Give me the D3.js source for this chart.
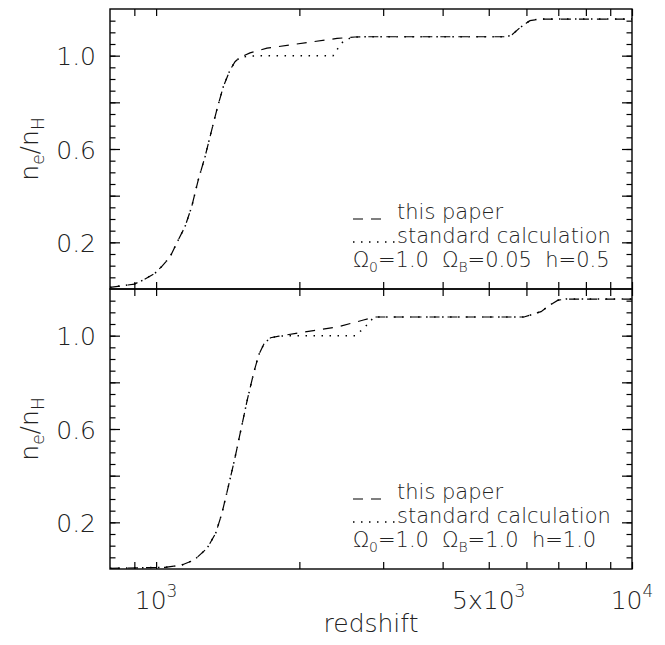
<!DOCTYPE html>
<html>
<head>
<meta charset="utf-8">
<script src="https://cdn.jsdelivr.net/npm/d3@7"></script>
<style>
  body { margin: 0; background: #fff; }
  svg text { font-family: "DejaVu Sans", "Liberation Sans", sans-serif; font-weight: 200; fill: #222; }
</style>
</head>
<body>
<div id="chart"></div>
<script>
// values (redshift, n_e/n_H)
var topPaperZ  = [800, 900, 940, 994, 1027, 1070, 1113, 1150, 1188, 1226, 1267, 1298, 1341, 1384, 1430, 1465, 1501, 1575, 1710, 2072, 2400, 2618, 2700, 5456, 5596, 5815, 6000, 6104, 6408, 10000];
var topPaperNe = [0.007, 0.021, 0.039, 0.067, 0.096, 0.138, 0.21, 0.267, 0.353, 0.467, 0.567, 0.653, 0.767, 0.867, 0.939, 0.974, 0.993, 1.012, 1.032, 1.056, 1.074, 1.080, 1.081, 1.081, 1.09, 1.12, 1.14, 1.15, 1.157, 1.157];
var topStdZ  = [800, 900, 940, 994, 1027, 1070, 1113, 1150, 1188, 1226, 1267, 1298, 1341, 1384, 1430, 1465, 1501, 1575, 1710, 2354, 2396, 2470, 2555, 2618, 2700, 5456, 5596, 5815, 6000, 6104, 6408, 10000];
var topStdNe = [0.007, 0.021, 0.039, 0.067, 0.096, 0.138, 0.21, 0.267, 0.353, 0.467, 0.567, 0.653, 0.767, 0.867, 0.939, 0.974, 0.993, 0.998, 1.0, 1.0, 1.024, 1.06, 1.075, 1.080, 1.081, 1.081, 1.09, 1.12, 1.14, 1.15, 1.157, 1.157];

var botPaperZ  = [800, 1044, 1132, 1203, 1280, 1334, 1375, 1418, 1461, 1507, 1554, 1603, 1642, 1687, 1740, 1812, 1967, 2411, 2727, 2842, 2885, 5930, 6440, 6709, 6991, 7266, 10000];
var botPaperNe = [0.003, 0.007, 0.017, 0.039, 0.089, 0.153, 0.239, 0.353, 0.467, 0.596, 0.724, 0.839, 0.917, 0.967, 0.991, 0.998, 1.01, 1.038, 1.067, 1.077, 1.08, 1.08, 1.103, 1.13, 1.152, 1.157, 1.157];
var botStdZ  = [800, 1044, 1132, 1203, 1280, 1334, 1375, 1418, 1461, 1507, 1554, 1603, 1642, 1687, 1740, 1812, 1967, 2618, 2727, 2842, 2885, 5930, 6440, 6709, 6991, 7266, 10000];
var botStdNe = [0.003, 0.007, 0.017, 0.039, 0.089, 0.153, 0.239, 0.353, 0.467, 0.596, 0.724, 0.839, 0.917, 0.967, 0.991, 0.998, 1.0, 1.0, 1.03, 1.07, 1.08, 1.08, 1.103, 1.13, 1.152, 1.157, 1.157];

var xTicks = [900, 1000, 2000, 3000, 4000, 5000, 6000, 7000, 8000, 9000, 10000];
var xLabelVals = [1000, 5000, 10000];
var xLabelBase = ["10", "5x10", "10"];
var xLabelExp  = ["3", "3", "4"];
var yMajor = [0.2, 0.4, 0.6, 0.8, 1.0];
var yLabelled = [0.2, 0.6, 1.0];
var yMinor = d3.range(1, 24).map(function(i) { return i * 0.05; });

var legendNames = ["this paper", "standard calculation"];
var paramsTop = [["\u03A9", "0", "=1.0  "], ["\u03A9", "B", "=0.05  h=0.5"]];
var paramsBot = [["\u03A9", "0", "=1.0  "], ["\u03A9", "B", "=1.0  h=1.0"]];

var W = 665, H = 645;
var xLeft = 110, xRight = 632, yTop = 9, yMid = 289, yBot = 569;

var svg = d3.select("#chart").append("svg")
  .attr("width", W).attr("height", H);

var x = d3.scaleLog().domain([800, 10000]).range([xLeft, xRight]);

function panel(y0, y1, paper, std, params) {
  var y = d3.scaleLinear().domain([0, 1.2]).range([y1, y0]);
  var g = svg.append("g");

  // frame
  g.append("rect")
    .attr("x", xLeft).attr("y", y0)
    .attr("width", xRight - xLeft).attr("height", y1 - y0)
    .attr("fill", "none").attr("stroke", "#000").attr("stroke-width", 1.4);

  // y ticks (inward) both sides
  var ax;
  ax = g.append("g").attr("transform", "translate(" + xLeft + ",0)")
    .call(d3.axisLeft(y).tickValues(yMinor).tickSize(-5.5).tickFormat(""));
  ax.select(".domain").remove();
  ax = g.append("g").attr("transform", "translate(" + xLeft + ",0)")
    .call(d3.axisLeft(y).tickValues(yMajor).tickSize(-10).tickPadding(14)
      .tickFormat(function(d) { return yLabelled.indexOf(d) >= 0 ? d3.format(".1f")(d) : ""; }));
  ax.select(".domain").remove();
  ax.selectAll("text").attr("font-size", 25).attr("dy", "0.36em");
  ax = g.append("g").attr("transform", "translate(" + xRight + ",0)")
    .call(d3.axisRight(y).tickValues(yMinor).tickSize(-5.5).tickFormat(""));
  ax.select(".domain").remove();
  ax = g.append("g").attr("transform", "translate(" + xRight + ",0)")
    .call(d3.axisRight(y).tickValues(yMajor).tickSize(-10).tickFormat(""));
  ax.select(".domain").remove();

  // x ticks (inward) top and bottom
  ax = g.append("g").attr("transform", "translate(0," + y0 + ")")
    .call(d3.axisTop(x).tickValues(xTicks).tickSize(-7).tickFormat(""));
  ax.select(".domain").remove();
  ax = g.append("g").attr("transform", "translate(0," + y1 + ")")
    .call(d3.axisBottom(x).tickValues(xTicks).tickSize(-7).tickFormat(""));
  ax.select(".domain").remove();
  g.selectAll(".tick line").attr("stroke", "#000").attr("stroke-width", 1.2);

  // curves
  var line = d3.line()
    .x(function(d) { return x(d[0]); })
    .y(function(d) { return y(d[1]); });
  g.append("path")
    .datum(d3.zip(paper[0], paper[1]))
    .attr("fill", "none").attr("stroke", "#000").attr("stroke-width", 1.2)
    .style("stroke-dasharray", "10 8")
    .attr("d", line);
  g.append("path")
    .datum(d3.zip(std[0], std[1]))
    .attr("fill", "none").attr("stroke", "#000").attr("stroke-width", 1.5)
    .style("stroke-dasharray", "1.5 6.5")
    .attr("d", line);

  // y title
  var yt = g.append("text")
    .attr("transform", "translate(38," + ((y0 + y1) / 2) + ") rotate(-90)")
    .attr("text-anchor", "middle").attr("font-size", 25);
  yt.append("tspan").text("n");
  yt.append("tspan").attr("font-size", 17).attr("dy", 6).text("e");
  yt.append("tspan").attr("dy", -6).text("/n");
  yt.append("tspan").attr("font-size", 17).attr("dy", 6).text("H");

  // legend
  var lx = 353, ly = y0 + 210;
  g.append("line").attr("x1", lx).attr("x2", lx + 30).attr("y1", ly).attr("y2", ly)
    .attr("stroke", "#000").attr("stroke-width", 1.2).style("stroke-dasharray", "10 8");
  g.append("text").attr("x", lx + 44).attr("y", ly).attr("font-size", 21).text(legendNames[0]);
  g.append("line").attr("x1", lx).attr("x2", lx + 42).attr("y1", ly + 23).attr("y2", ly + 23)
    .attr("stroke", "#000").attr("stroke-width", 1.5).style("stroke-dasharray", "1.5 6.5");
  g.append("text").attr("x", lx + 44).attr("y", ly + 24).attr("font-size", 21).text(legendNames[1]);
  var pt = g.append("text").attr("x", lx).attr("y", ly + 48).attr("font-size", 21)
    .style("white-space", "pre");
  params.forEach(function(p) {
    pt.append("tspan").text(p[0]);
    pt.append("tspan").attr("font-size", 14).attr("dy", 5).text(p[1]);
    pt.append("tspan").attr("dy", -5).text(p[2]);
  });
}

panel(yTop, yMid, [topPaperZ, topPaperNe], [topStdZ, topStdNe], paramsTop);
panel(yMid, yBot, [botPaperZ, botPaperNe], [botStdZ, botStdNe], paramsBot);

// x tick labels
xLabelVals.forEach(function(v, i) {
  var t = svg.append("text")
    .attr("x", x(v)).attr("y", 609)
    .attr("text-anchor", "middle").attr("font-size", 25);
  t.append("tspan").text(xLabelBase[i]);
  t.append("tspan").attr("font-size", 17).attr("dy", -12).text(xLabelExp[i]);
});

svg.append("text")
  .attr("x", (xLeft + xRight) / 2).attr("y", 632)
  .attr("text-anchor", "middle").attr("font-size", 25)
  .text("redshift");
</script>
</body>
</html>
